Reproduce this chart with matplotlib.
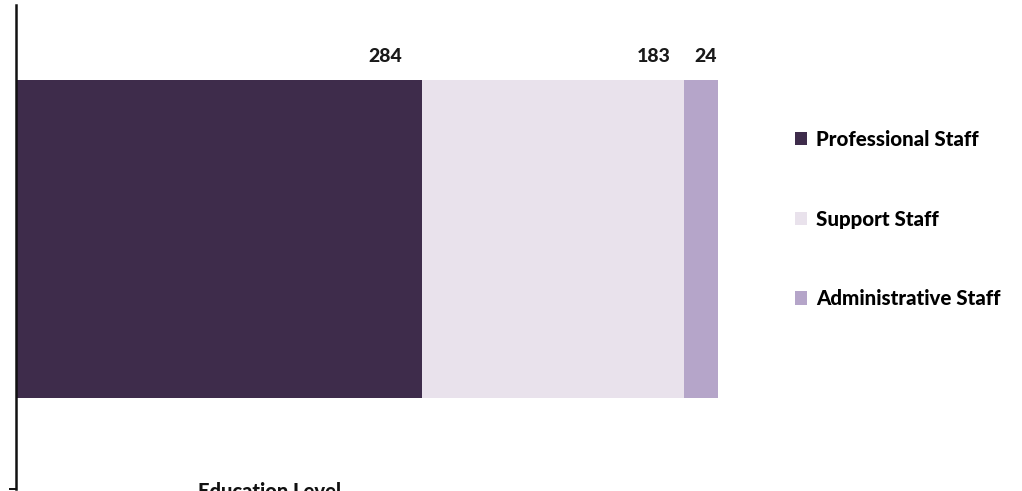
import matplotlib
matplotlib.use("Agg")
import matplotlib.pyplot as plt
from matplotlib.patches import Patch

# staff counts (one stacked bar)
categories = ['Professional Staff', 'Support Staff', 'Administrative Staff']
values = [284, 183, 24]
colors = ['#3e2c4b', '#e9e2ec', '#b5a5c9']
axis_title = 'Education Level'

plt.rcParams['font.family'] = ['Lato', 'DejaVu Sans']

fig = plt.figure(figsize=(10.22, 4.91), dpi=100)
ax = fig.add_axes([16 / 1022, 2 / 491, 715 / 1022, 484 / 491])

left = 0
for name, v, c in zip(categories, values, colors):
    ax.barh(0, v, left=left, height=0.657, color=c, label=name)
    left += v
    # value label sits just above the bar, near the segment end
    ax.text(left - 0.05 * v, 0.3285 + 0.03, str(v), ha='right', va='bottom',
            fontsize=14, fontweight='black', color='#1a1a1a')

ax.set_xlim(0, 500)
ax.set_ylim(-0.5165, 0.4835)
for s in ['top', 'right', 'bottom']:
    ax.spines[s].set_visible(False)
ax.spines['left'].set_linewidth(1.8)
ax.spines['left'].set_color('#111111')
ax.set_xticks([])
ax.set_yticks([-0.5165])
ax.set_yticklabels([''])
ax.tick_params(axis='y', length=5, width=1.4, color='#111111')

handles = [Patch(facecolor=c, label=n) for n, c in zip(categories, colors)]
fig.legend(handles=handles, loc='upper left', bbox_to_anchor=(0.770, 0.752),
           frameon=False, prop={'weight': 'black', 'size': 14.8},
           handlelength=0.6, handleheight=0.6, handletextpad=0.4,
           labelspacing=2.95, borderaxespad=0)

# axis title, partly cut off by the bottom edge as in the original image
fig.text(0.264, 9 / 491, axis_title, ha='center', va='top',
         fontsize=14.5, fontweight='black', color='#111111')

fig.savefig('out.png', dpi=100)
